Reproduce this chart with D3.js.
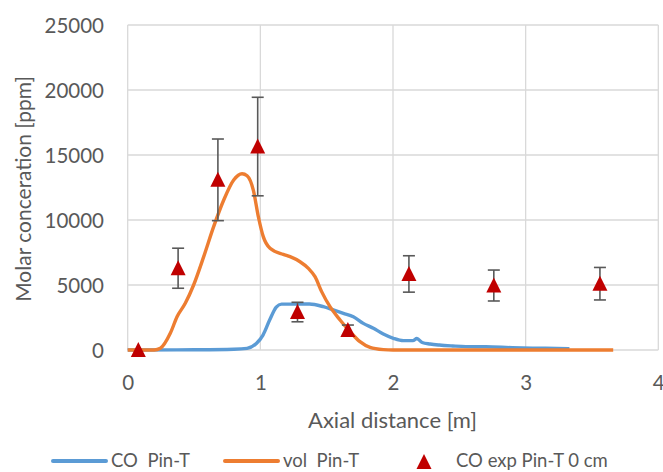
<!DOCTYPE html>
<html>
<head>
<meta charset="utf-8">
<script src="https://cdn.jsdelivr.net/npm/d3@7/dist/d3.min.js"></script>
<style>
  html, body { margin: 0; padding: 0; background: #fff; }
  svg { display: block; }
  text { font-family: Lato, "Open Sans", sans-serif; fill: #595959; }
</style>
</head>
<body>
<svg id="chart" width="663" height="472"></svg>
<script>
// ---- data ----
const xTicks = [0, 1, 2, 3, 4];
const yTicks = [0, 5000, 10000, 15000, 20000, 25000];

const coX = [0, 0.5, 0.8, 0.9, 0.97, 1.02, 1.07, 1.12, 1.16, 1.25, 1.37, 1.475, 1.55, 1.626, 1.701, 1.776, 1.852, 1.927, 2.003, 2.078, 2.15, 2.18, 2.22, 2.28, 2.35, 2.45, 2.55, 2.7, 2.9, 3.15, 3.33];
const coY = [0, 20, 60, 130, 500, 1150, 2300, 3300, 3530, 3530, 3540, 3330, 3080, 2820, 2560, 2050, 1670, 1230, 900, 720, 720, 880, 580, 460, 380, 310, 260, 250, 180, 130, 100];

const volX = [0, 0.2, 0.246, 0.321, 0.372, 0.434, 0.497, 0.573, 0.648, 0.724, 0.799, 0.862, 0.9, 0.947, 0.985, 1.022, 1.073, 1.173, 1.224, 1.299, 1.362, 1.412, 1.462, 1.525, 1.601, 1.676, 1.751, 1.827, 1.927, 2.0, 3.0, 3.66];
const volY = [0, 0, 130, 1280, 2560, 3590, 5000, 7180, 9490, 11540, 13080, 13560, 13400, 12300, 10250, 8720, 7820, 7350, 7180, 6790, 6280, 5640, 4490, 3330, 2310, 1410, 640, 200, 30, 0, 0, 0];

const expX = [0.08, 0.38, 0.68, 0.98, 1.28, 1.66, 2.12, 2.76, 3.56];
const expY = [0, 6290, 13090, 15650, 2920, 1540, 5850, 4960, 5100];
const expErr = [0, 1540, 3140, 3790, 750, 380, 1400, 1190, 1250];

const seriesNames = ["CO  Pin-T", "vol  Pin-T", "CO exp Pin-T 0 cm"];
const colors = { co: "#5B9BD5", vol: "#ED7D31", exp: "#C00000", err: "#595959", grid: "#D9D9D9" };

// ---- scales ----
const svg = d3.select("#chart");
const x = d3.scaleLinear().domain([0, 4]).range([127.7, 658.3]);
const y = d3.scaleLinear().domain([0, 25000]).range([350, 25]);

// gridlines
svg.append("g").selectAll("line").data(yTicks).join("line")
  .attr("x1", x(0)).attr("x2", x(4))
  .attr("y1", d => y(d)).attr("y2", d => y(d))
  .attr("stroke", colors.grid).attr("stroke-width", 1.3);
svg.append("g").selectAll("line").data(xTicks).join("line")
  .attr("x1", d => x(d)).attr("x2", d => x(d))
  .attr("y1", y(0)).attr("y2", y(25000))
  .attr("stroke", colors.grid).attr("stroke-width", 1.3);

// axes (labels only)
const yAxis = d3.axisLeft(y).tickValues(yTicks).tickSize(0).tickPadding(0).tickFormat(d3.format("d"));
const gy = svg.append("g").attr("transform", "translate(104,0)").call(yAxis);
gy.select(".domain").remove();
gy.selectAll("text").attr("font-size", 20.5).attr("font-family", "Lato").attr("fill", "#595959").attr("dy", "0.36em");

const xAxis = d3.axisBottom(x).tickValues(xTicks).tickSize(0).tickPadding(0).tickFormat(d3.format("d"));
const gx = svg.append("g").attr("transform", "translate(0,375)").call(xAxis);
gx.select(".domain").remove();
gx.selectAll("text").attr("font-size", 20.5).attr("font-family", "Lato").attr("fill", "#595959").attr("dy", "0.73em");

// axis titles
svg.append("text").attr("x", 392.5).attr("y", 428).attr("text-anchor", "middle")
  .attr("font-size", 22).text("Axial distance [m]");
svg.append("text").attr("transform", "translate(31,189) rotate(-90)").attr("text-anchor", "middle")
  .attr("font-size", 21).text("Molar conceration [ppm]");

// lines
const line = d3.line().x(d => x(d[0])).y(d => y(d[1])).curve(d3.curveMonotoneX);
svg.append("path").datum(d3.zip(coX, coY)).attr("d", line)
  .attr("fill", "none").attr("stroke", colors.co).attr("stroke-width", 3.4).attr("stroke-linejoin", "round");
svg.append("path").datum(d3.zip(volX, volY)).attr("d", line)
  .attr("fill", "none").attr("stroke", colors.vol).attr("stroke-width", 3.4).attr("stroke-linejoin", "round");

// error bars
const exp = d3.zip(expX, expY, expErr);
const eg = svg.append("g").attr("stroke", colors.err).attr("stroke-width", 1.6);
exp.filter(d => d[2] > 0).forEach(d => {
  eg.append("line").attr("x1", x(d[0])).attr("x2", x(d[0])).attr("y1", y(d[1] - d[2])).attr("y2", y(d[1] + d[2]));
  [d[1] - d[2], d[1] + d[2]].forEach(v => {
    eg.append("line").attr("x1", x(d[0]) - 6).attr("x2", x(d[0]) + 6).attr("y1", y(v)).attr("y2", y(v));
  });
});

// triangles
const tri = "M0,-8L7.5,7L-7.5,7Z";
svg.append("g").selectAll("path").data(exp).join("path")
  .attr("d", tri).attr("transform", d => `translate(${x(d[0])},${y(d[1])})`)
  .attr("fill", colors.exp);

// legend
const lg = svg.append("g");
lg.append("line").attr("x1", 53).attr("x2", 106).attr("y1", 461).attr("y2", 461)
  .attr("stroke", colors.co).attr("stroke-width", 4).attr("stroke-linecap", "round");
lg.append("text").attr("x", 111).attr("y", 467).attr("font-size", 18.5).attr("xml:space", "preserve").text(seriesNames[0]);
lg.append("line").attr("x1", 225).attr("x2", 278).attr("y1", 461).attr("y2", 461)
  .attr("stroke", colors.vol).attr("stroke-width", 4).attr("stroke-linecap", "round");
lg.append("text").attr("x", 283).attr("y", 467).attr("font-size", 18.5).attr("xml:space", "preserve").text(seriesNames[1]);
lg.append("path").attr("d", tri).attr("transform", "translate(424,462)").attr("fill", colors.exp);
lg.append("text").attr("x", 456).attr("y", 467).attr("font-size", 18.5).text(seriesNames[2]);
</script>
</body>
</html>
